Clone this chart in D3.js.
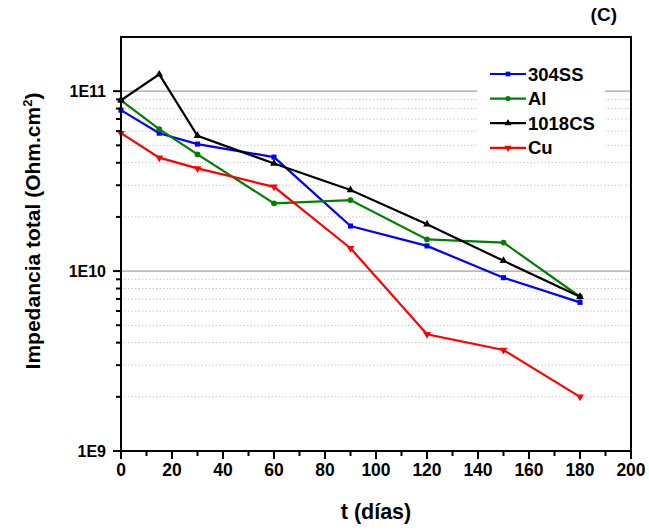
<!DOCTYPE html>
<html>
<head>
<meta charset="utf-8">
<script src="https://cdn.jsdelivr.net/npm/d3@7"></script>
<style>
  body { margin: 0; background: #fff; }
  text { font-family: "Liberation Sans", Arial, sans-serif; font-weight: bold; }
</style>
</head>
<body>
<svg id="chart" width="649" height="531"></svg>
<script>
const days = [0, 15, 30, 60, 90, 120, 150, 180];
const ss304 = [7.84e10, 5.84e10, 5.08e10, 4.30e10, 1.78e10, 1.38e10, 9.19e9, 6.70e9];
const al    = [8.9e10, 6.15e10, 4.45e10, 2.38e10, 2.48e10, 1.50e10, 1.44e10, 7.2e9];
const cs1018 = [8.9e10, 1.24e11, 5.65e10, 3.96e10, 2.82e10, 1.82e10, 1.14e10, 7.2e9];
const cu    = [5.84e10, 4.27e10, 3.72e10, 2.94e10, 1.34e10, 4.45e9, 3.64e9, 2.0e9];
const seriesNames = ["304SS", "Al", "1018CS", "Cu"];
const seriesColors = ["#0000ff", "#008000", "#000000", "#ff0000"];
const seriesSymbols = [d3.symbolSquare, d3.symbolCircle, d3.symbolTriangle, "down"];
const xTicks = [0, 20, 40, 60, 80, 100, 120, 140, 160, 180, 200];
const yTickLabels = ["1E9", "1E10", "1E11"];
const yTickValues = [1e9, 1e10, 1e11];

const svg = d3.select("#chart");
const L = 121, R = 631, T = 37, B = 451;
const x = d3.scaleLinear().domain([0, 200]).range([L, R]);
const y = d3.scaleLog().domain([1e9, 2e11]).range([B, T]);

// minor grid
const minorVals = [];
for (let e = 9; e <= 11; e++) for (let m = 2; m <= 9; m++) { const v = m * Math.pow(10, e); if (v < 2e11) minorVals.push(v); }
svg.append("g").selectAll("line").data(minorVals).join("line")
  .attr("x1", L).attr("x2", R).attr("y1", d => y(d)).attr("y2", d => y(d))
  .attr("stroke", "#c8c8c8").attr("stroke-width", 1).attr("stroke-dasharray", "1.5,2");
svg.append("g").selectAll("line").data([1e10, 1e11]).join("line")
  .attr("x1", L).attr("x2", R).attr("y1", d => y(d)).attr("y2", d => y(d))
  .attr("stroke", "#a0a0a0").attr("stroke-width", 1.2);

// series
const data = [ss304, al, cs1018, cu];
const line = d3.line().x((d, i) => x(days[i])).y(d => y(d));
function symbolPath(s, size) {
  if (s === "down") return d3.symbol().type(d3.symbolTriangle).size(size)();
  return d3.symbol().type(s).size(size)();
}
data.forEach((vals, k) => {
  svg.append("path").datum(vals).attr("d", line)
    .attr("fill", "none").attr("stroke", seriesColors[k]).attr("stroke-width", 2.2);
  svg.append("g").selectAll("path").data(vals).join("path")
    .attr("d", symbolPath(seriesSymbols[k], 26))
    .attr("transform", (d, i) => `translate(${x(days[i])},${y(d)})` + (seriesSymbols[k] === "down" ? " rotate(180)" : ""))
    .attr("fill", seriesColors[k]);
});

// frame
svg.append("rect").attr("x", L).attr("y", T).attr("width", R - L).attr("height", B - T)
  .attr("fill", "none").attr("stroke", "#000").attr("stroke-width", 2);

// x axis
const xAxis = svg.append("g").attr("transform", `translate(0,${B})`);
xAxis.selectAll("line.minor").data(d3.range(10, 200, 20)).join("line")
  .attr("x1", d => x(d)).attr("x2", d => x(d)).attr("y1", 0).attr("y2", 5)
  .attr("stroke", "#000").attr("stroke-width", 2);
xAxis.selectAll("line.major").data(xTicks).join("line")
  .attr("x1", d => x(d)).attr("x2", d => x(d)).attr("y1", 0).attr("y2", 8)
  .attr("stroke", "#000").attr("stroke-width", 2);
xAxis.selectAll("text").data(xTicks).join("text")
  .attr("x", d => x(d)).attr("y", 25).attr("text-anchor", "middle")
  .attr("font-size", 17.5).text(d => d);

// y axis
const yAxis = svg.append("g").attr("transform", `translate(${L},0)`);
yAxis.selectAll("line.minor").data(minorVals).join("line")
  .attr("x1", 0).attr("x2", -5).attr("y1", d => y(d)).attr("y2", d => y(d))
  .attr("stroke", "#000").attr("stroke-width", 2);
yAxis.selectAll("line.major").data(yTickValues).join("line")
  .attr("x1", 0).attr("x2", -8).attr("y1", d => y(d)).attr("y2", d => y(d))
  .attr("stroke", "#000").attr("stroke-width", 2);
yAxis.selectAll("text").data(yTickValues).join("text")
  .attr("x", -15).attr("y", d => y(d) + 5.5).attr("text-anchor", "end")
  .attr("font-size", 16).text((d, i) => yTickLabels[i]);

// axis titles
svg.append("text").attr("x", 376).attr("y", 519).attr("text-anchor", "middle")
  .attr("font-size", 21.5).text("t (días)");
const yl = svg.append("text").attr("transform", "translate(40,231) rotate(-90)")
  .attr("text-anchor", "middle").attr("font-size", 21);
yl.append("tspan").text("Impedancia total (Ohm.cm");
yl.append("tspan").attr("dy", -8).attr("font-size", 13).text("2");
yl.append("tspan").attr("dy", 8).text(")");

svg.append("text").attr("x", 617).attr("y", 21).attr("text-anchor", "end")
  .attr("font-size", 19).text("(C)");

// legend
const lg = svg.append("g");
lg.append("rect").attr("x", 477).attr("y", 60).attr("width", 128).attr("height", 97).attr("fill", "#fff");
seriesNames.forEach((n, k) => {
  const ly = 74 + k * 24.6;
  lg.append("line").attr("x1", 490).attr("x2", 526).attr("y1", ly).attr("y2", ly)
    .attr("stroke", seriesColors[k]).attr("stroke-width", 2.2);
  lg.append("path").attr("d", symbolPath(seriesSymbols[k], 22))
    .attr("transform", `translate(508,${ly})` + (seriesSymbols[k] === "down" ? " rotate(180)" : ""))
    .attr("fill", seriesColors[k]);
  lg.append("text").attr("x", 528).attr("y", ly + 6.5).attr("font-size", 18.5).text(n);
});
</script>
</body>
</html>
